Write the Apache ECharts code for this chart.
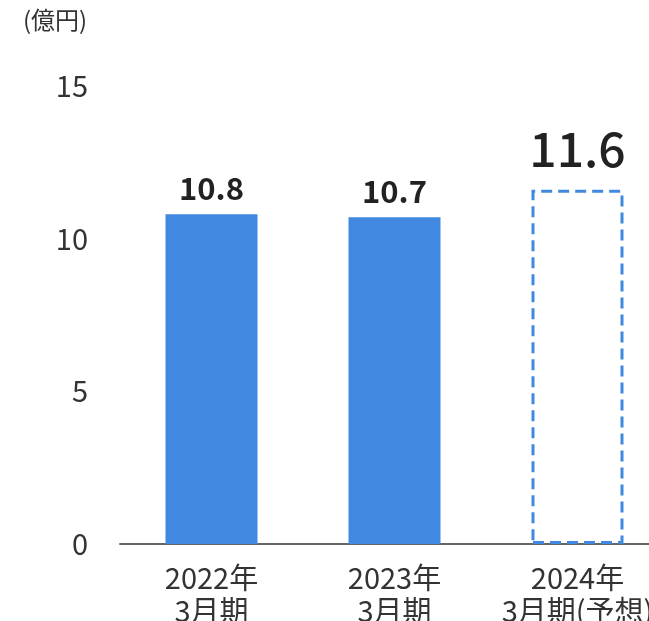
<!DOCTYPE html>
<html>
<head>
<meta charset="utf-8">
<style>
  html, body { margin: 0; padding: 0; background: #fff; }
  #chart { width: 649px; height: 621px; }
</style>
<script src="https://cdn.jsdelivr.net/npm/echarts@6/dist/echarts.min.js"></script>
</head>
<body>
<div id="chart"></div>
<script>
// Net sales by fiscal period (unit: 100 million yen)
const categories = ['2022年\n3月期', '2023年\n3月期', '2024年\n3月期(予想)'];
const values = [10.8, 10.7, 11.6];
const forecastIndex = 2;
const yTicks = [0, 5, 10, 15];

const FONT = '"Noto Sans CJK JP", "Noto Sans", sans-serif';
const BLUE = '#4189E0';

const chart = echarts.init(document.getElementById('chart'), null, { renderer: 'canvas' });

const barData = values.map((v, i) => {
  if (i === forecastIndex) {
    // forecast: outlined with a dashed border, no fill
    return {
      value: v,
      itemStyle: {
        color: 'rgba(0,0,0,0)',
        borderColor: BLUE,
        borderWidth: 3,
        borderType: [11, 6]
      },
      label: { fontSize: 48, fontWeight: 500, distance: 17 }
    };
  }
  return { value: v };
});

chart.setOption({
  animation: false,
  graphic: [{
    type: 'text',
    left: 23,
    top: 8,
    style: { text: '(億円)', font: '24px ' + FONT, fill: '#333' }
  }],
  grid: {
    left: 120, top: 86, width: 549, bottom: 77,
    containLabel: false,
    outerBoundsMode: 'none'
  },
  xAxis: {
    type: 'category',
    data: categories,
    axisLine: { lineStyle: { color: '#666', width: 2 } },
    axisTick: { show: false },
    axisLabel: {
      color: '#333',
      fontFamily: FONT,
      fontSize: 29,
      lineHeight: 33,
      margin: 17,
      interval: 0
    }
  },
  yAxis: {
    type: 'value',
    min: yTicks[0],
    max: yTicks[yTicks.length - 1],
    interval: 5,
    axisLine: { show: false },
    axisTick: { show: false },
    splitLine: { show: false },
    axisLabel: { color: '#333', fontFamily: FONT, fontSize: 29, margin: 32 }
  },
  series: [{
    type: 'bar',
    data: barData,
    barWidth: 92,
    itemStyle: { color: BLUE },
    label: {
      show: true,
      position: 'top',
      distance: 11,
      color: '#222',
      fontFamily: FONT,
      fontSize: 31,
      fontWeight: 'bold',
      formatter: p => p.value.toFixed(1)
    }
  }]
});
</script>
</body>
</html>
